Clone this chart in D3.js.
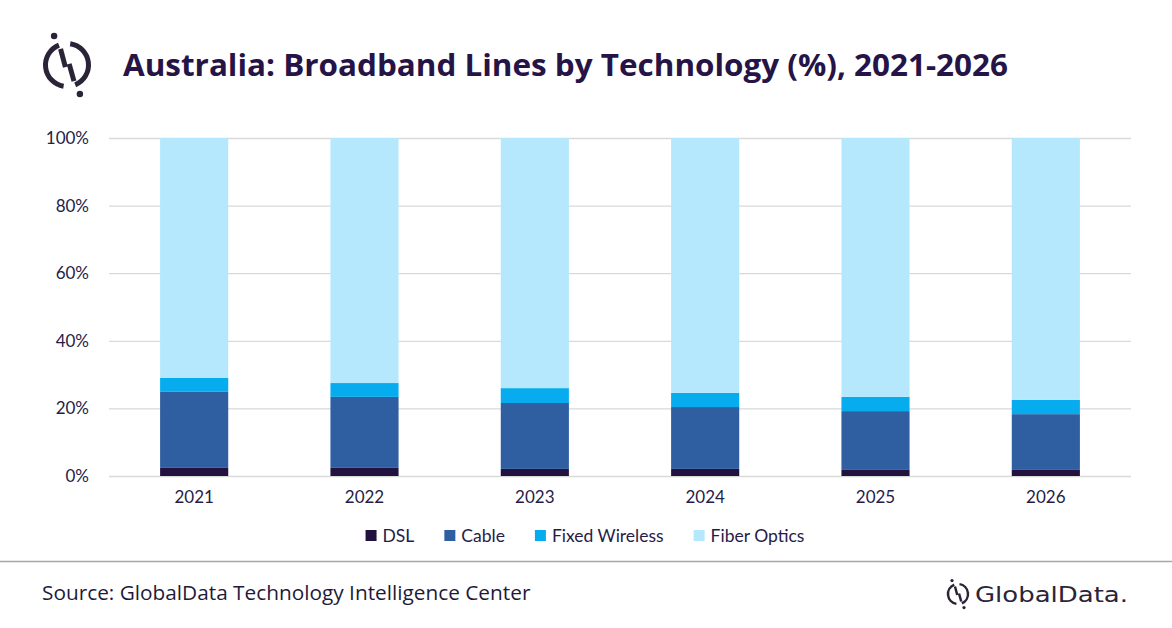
<!DOCTYPE html>
<html>
<head>
<meta charset="utf-8">
<script src="https://cdn.jsdelivr.net/npm/d3@7"></script>
<style>
  body { margin: 0; background: #fff; }
  svg { display: block; font-family: Lato, "Open Sans", sans-serif; }
</style>
</head>
<body>
<svg id="chart" width="1172" height="628"></svg>
<script>
// data
var years = ['2021', '2022', '2023', '2024', '2025', '2026']
var dsl = [2.4, 2.4, 2.1, 2.1, 1.8, 1.8]
var cable = [22.5, 21.0, 19.5, 18.3, 17.4, 16.5]
var fixedWireless = [4.1, 4.1, 4.4, 4.2, 4.2, 4.2]
var fiber = [71.0, 72.5, 74.0, 75.4, 76.6, 77.5]
var seriesNames = ['DSL', 'Cable', 'Fixed Wireless', 'Fiber Optics']
var colors = ['#22123f', '#2f5fa1', '#06acee', '#b5e8fd']
var yTicks = [0, 20, 40, 60, 80, 100]

var svg = d3.select('#chart')
var textCol = '#261c47'

// build rows for stack
var rows = years.map(function (y, i) {
  return { year: y, 'DSL': dsl[i], 'Cable': cable[i], 'Fixed Wireless': fixedWireless[i], 'Fiber Optics': fiber[i] }
})
var stacked = d3.stack().keys(seriesNames)(rows)

var x = d3.scaleBand().domain(years).range([109, 1131]).paddingInner(0.6).paddingOuter(0.3)
var y = d3.scaleLinear().domain([0, 100]).range([476, 138])

// draws the GlobalData mark (broken ring + slash + two dots)
function drawMark(g, r, w) {
  var col = '#2b2438'
  g.append('path')
    .attr('d', d3.arc()({ innerRadius: r - w / 2, outerRadius: r + w / 2, startAngle: 0.15, endAngle: 2.75 }))
    .attr('fill', col)
  g.append('path')
    .attr('d', d3.arc()({ innerRadius: r - w / 2, outerRadius: r + w / 2, startAngle: 3.3, endAngle: 5.9 }))
    .attr('fill', col)
  var k = r / 20
  g.append('line').attr('x1', -6 * k).attr('y1', -15 * k).attr('x2', -1.5 * k).attr('y2', 2 * k)
    .attr('stroke', col).attr('stroke-width', w)
  g.append('line').attr('x1', 2 * k).attr('y1', -1 * k).attr('x2', 6.5 * k).attr('y2', 15 * k)
    .attr('stroke', col).attr('stroke-width', w)
  g.append('circle').attr('cx', -12 * k).attr('cy', -27 * k).attr('r', w * 0.65).attr('fill', col)
  g.append('circle').attr('cx', 12 * k).attr('cy', 27 * k).attr('r', w * 0.65).attr('fill', col)
}

drawMark(svg.append('g').attr('transform', 'translate(67,65)'), 21.5, 5)

svg.append('text')
  .attr('x', 123).attr('y', 76)
  .attr('font-size', 30).attr('font-weight', 'bold')
  .attr('font-family', '"Open Sans", sans-serif')
  .attr('fill', '#261447')
  .attr('textLength', 885).attr('lengthAdjust', 'spacingAndGlyphs')
  .text('Australia: Broadband Lines by Technology (%), 2021-2026')

// gridlines + y axis
var yAxis = d3.axisLeft(y).tickValues(yTicks).tickSize(-(1131 - 109)).tickFormat(function (d) { return d + '%' })
var gy = svg.append('g').attr('transform', 'translate(109,0)').call(yAxis)
gy.select('.domain').remove()
gy.selectAll('.tick line').attr('stroke', '#d9d9d9').attr('stroke-width', 1.3)
gy.selectAll('.tick text').attr('x', -20).attr('font-size', 17).attr('fill', textCol)
  .attr('font-family', 'Lato, sans-serif')

// bars
svg.append('g').selectAll('g').data(stacked).enter().append('g')
  .attr('fill', function (d, i) { return colors[i] })
  .selectAll('rect').data(function (d) { return d }).enter().append('rect')
  .attr('x', function (d) { return x(d.data.year) })
  .attr('width', x.bandwidth())
  .attr('y', function (d) { return y(d[1]) })
  .attr('height', function (d) { return y(d[0]) - y(d[1]) })

// x axis
var xAxis = d3.axisBottom(x).tickSize(0)
var gx = svg.append('g').attr('transform', 'translate(0,476)').call(xAxis)
gx.select('.domain').remove()
gx.selectAll('.tick text').attr('dy', 0).attr('y', 27).attr('font-size', 17).attr('fill', textCol)
  .attr('font-family', 'Lato, sans-serif')

// legend
var legend = svg.append('g')
var lx = 0
seriesNames.forEach(function (name, i) {
  var item = legend.append('g').attr('transform', 'translate(' + lx + ',0)')
  item.append('rect').attr('x', 0).attr('y', 530).attr('width', 11).attr('height', 11).attr('fill', colors[i])
  var t = item.append('text').attr('x', 17).attr('y', 542).attr('font-size', 17.5).attr('fill', textCol).text(name)
  lx += 17 + t.node().getComputedTextLength() + 30
})
var lw = lx - 30
legend.attr('transform', 'translate(' + (585 - lw / 2) + ',0)')

// footer
svg.append('line').attr('x1', 0).attr('x2', 1172).attr('y1', 561.5).attr('y2', 561.5)
  .attr('stroke', '#a6a6a6').attr('stroke-width', 1.5)
svg.append('text').attr('x', 42).attr('y', 600).attr('font-size', 20.8)
  .attr('font-family', '"Open Sans", sans-serif')
  .attr('fill', '#1f1a3a')
  .text('Source: GlobalData Technology Intelligence Center')

drawMark(svg.append('g').attr('transform', 'translate(958,594)'), 10, 2.5)
svg.append('text').attr('x', 975).attr('y', 602).attr('font-size', 22)
  .attr('font-family', '"DejaVu Sans", sans-serif')
  .attr('fill', '#2b2438').attr('textLength', 153).attr('lengthAdjust', 'spacingAndGlyphs')
  .text('GlobalData.')
</script>
</body>
</html>
